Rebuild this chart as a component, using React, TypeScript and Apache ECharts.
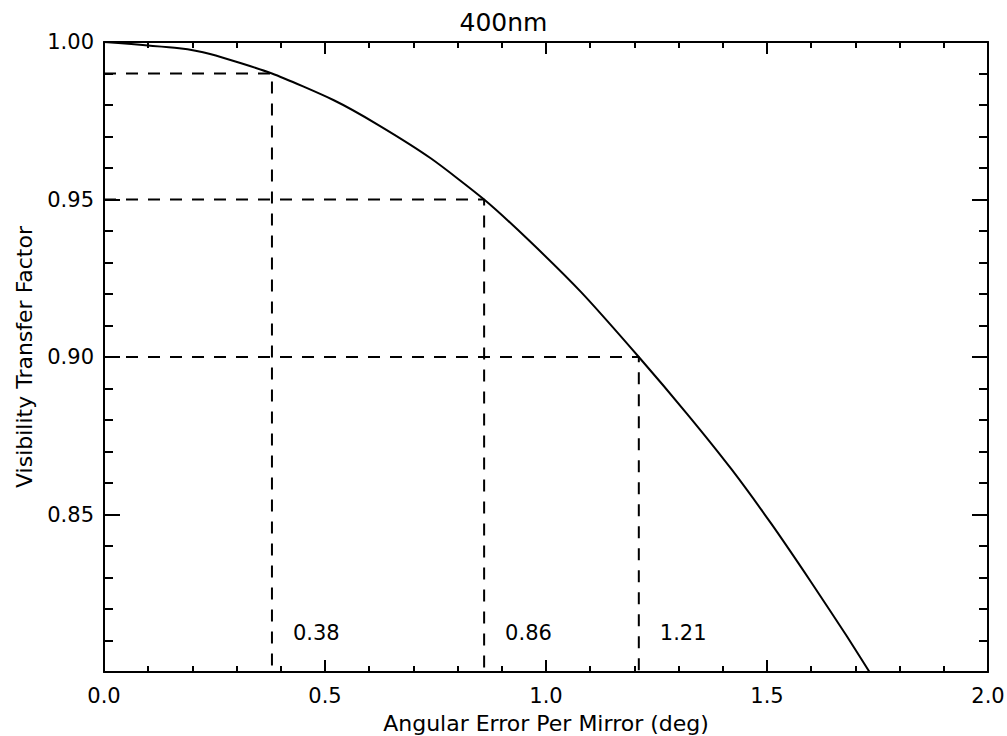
import React, { useEffect, useRef } from "react";
import * as echarts from "echarts";

// Curve: angular error per mirror (deg) vs visibility transfer factor
const angle = [0, 0.17, 0.24, 0.38, 0.52, 0.62, 0.74, 0.86, 0.96, 1.08, 1.21, 1.32, 1.42, 1.51, 1.6, 1.68, 1.74];
const vtf = [1.0, 0.998, 0.9962, 0.99, 0.9815, 0.9737, 0.963, 0.95, 0.9372, 0.9205, 0.9, 0.8818, 0.8643, 0.847, 0.8285, 0.8115, 0.7982];

// Threshold markers
const crossX = [0.38, 0.86, 1.21];
const crossY = [0.99, 0.95, 0.9];
const crossLabels = ["0.38", "0.86", "1.21"];

const xTicks = [0, 0.5, 1.0, 1.5, 2.0];
const yTicks = [0.8, 0.85, 0.9, 0.95, 1.0];

const TITLE = "400nm";
const X_NAME = "Angular Error Per Mirror (deg)";
const Y_NAME = "Visibility Transfer Factor";

const FONT = "DejaVu Sans";
const FS = 21;
const NAME_FS = 22;
const TITLE_FS = 25;

export default function App() {
  const ref = useRef<HTMLDivElement>(null);
  useEffect(() => {
    document.body.style.margin = "0";
    const chart = echarts.init(ref.current!, null, { renderer: "svg" });
    const xMin = xTicks[0];
    const xMax = xTicks[xTicks.length - 1];
    const yMin = yTicks[0];
    const yMax = yTicks[yTicks.length - 1];
    const line = { lineStyle: { color: "#000", width: 2 } };
    const tickStyle = { color: "#000", width: 2 };
    const xCommon = {
      type: "value",
      min: xMin,
      max: xMax,
      interval: 0.5,
      axisLine: { show: true, onZero: false, ...line },
      splitLine: { show: false },
      axisTick: { show: true, inside: true, length: 12, lineStyle: tickStyle },
      minorTick: { show: true, splitNumber: 5, length: 6, lineStyle: tickStyle },
    };
    const yCommon = {
      type: "value",
      min: yMin,
      max: yMax,
      interval: 0.05,
      axisLine: { show: true, onZero: false, ...line },
      splitLine: { show: false },
      axisTick: { show: true, inside: true, length: 16, lineStyle: tickStyle },
      minorTick: { show: true, splitNumber: 5, length: 9, lineStyle: tickStyle },
    };
    const series: any[] = [
      {
        type: "line",
        data: angle.map((a, i) => [a, vtf[i]]),
        showSymbol: false,
        symbol: "none",
        smooth: 0.2,
        lineStyle: { color: "#000", width: 2 },
        clip: true,
        z: 5,
      },
    ];
    crossX.forEach((cx, i) => {
      series.push({
        type: "line",
        data: [
          [xMin, crossY[i]],
          [cx, crossY[i]],
          [cx, yMin],
        ],
        symbol: "none",
        lineStyle: { color: "#000", width: 2, type: [12, 10] },
        z: 3,
      });
    });
    series.push({
      type: "scatter",
      symbolSize: 0,
      itemStyle: { color: "#000", opacity: 1 },
      data: crossX.map((cx, i) => [cx, 0.8124, crossLabels[i]]),
      label: {
        show: true,
        position: "inside",
        align: "left",
        verticalAlign: "middle",
        offset: [21, 0],
        color: "#000",
        opacity: 1,
        fontFamily: FONT,
        fontSize: FS,
        formatter: (p: any) => p.data[2],
      },
      silent: true,
    });
    chart.setOption({
      animation: false,
      backgroundColor: "#fff",
      textStyle: { fontFamily: FONT },
      title: {
        text: TITLE,
        left: "center",
        top: 5,
        textStyle: { fontFamily: FONT, fontSize: TITLE_FS, fontWeight: "normal", color: "#000" },
      },
      grid: {
        left: 104,
        right: 19,
        top: 42,
        bottom: 64,
        containLabel: false,
        outerBoundsMode: "none",
      },
      xAxis: [
        {
          ...xCommon,
          position: "bottom",
          name: X_NAME,
          nameLocation: "middle",
          nameGap: 40,
          nameTextStyle: { fontFamily: FONT, fontSize: NAME_FS, color: "#000", lineHeight: 22 },
          axisLabel: {
            show: true,
            margin: 13,
            color: "#000",
            fontFamily: FONT,
            fontSize: FS,
            formatter: (v: number) => v.toFixed(1),
          },
        },
        { ...xCommon, position: "top", axisLabel: { show: false } },
      ],
      yAxis: [
        {
          ...yCommon,
          position: "left",
          name: Y_NAME,
          nameLocation: "middle",
          nameGap: 69,
          nameTextStyle: { fontFamily: FONT, fontSize: NAME_FS, color: "#000" },
          axisLabel: {
            show: true,
            margin: 10,
            color: "#000",
            fontFamily: FONT,
            fontSize: FS,
            formatter: (v: number) => (Math.abs(v - yMin) < 1e-9 ? "" : v.toFixed(2)),
          },
        },
        { ...yCommon, position: "right", axisLabel: { show: false } },
      ],
      series,
    });
    return () => chart.dispose();
  }, []);
  return <div ref={ref} style={{ width: 1007, height: 736 }} />;
}
